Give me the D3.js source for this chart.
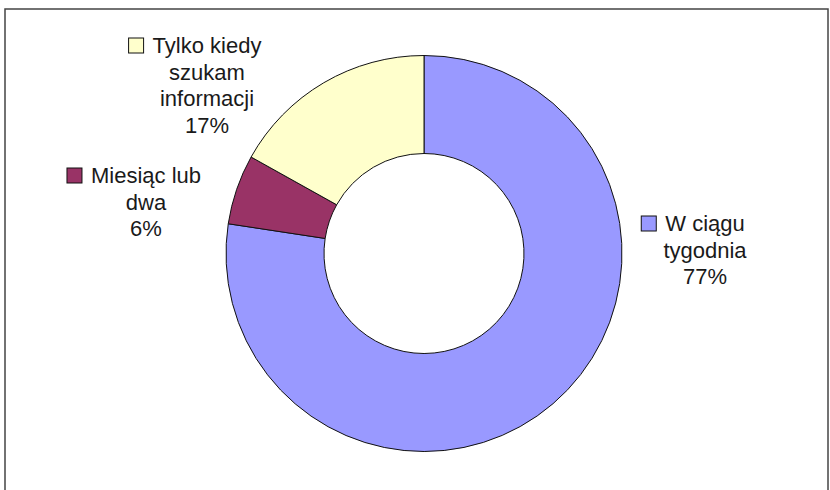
<!DOCTYPE html>
<html><head><meta charset="utf-8">
<script src="https://cdn.jsdelivr.net/npm/d3@7"></script>
<style>html,body{margin:0;padding:0;background:#fff;}svg{display:block;}</style>
</head><body>
<svg id="c" width="830" height="490"></svg>
<script>
const categories = ["W ciągu tygodnia", "Miesiąc lub dwa", "Tylko kiedy szukam informacji"];
const values = [77.4, 5.7, 16.9];
const colors = ["#9999FF", "#993366", "#FFFFCC"];
const labelLines = [["W ciągu", "tygodnia"], ["Miesiąc lub", "dwa"], ["Tylko kiedy", "szukam", "informacji"]];

const svg = d3.select("#c");
svg.append("rect").attr("x", 5).attr("y", 9).attr("width", 823).attr("height", 490)
  .attr("fill", "#fff").attr("stroke", "#444").attr("stroke-width", 1.5);

const cx = 424, cy = 253.5, R = 198, r = 100;
const pie = d3.pie().sort(null).value(d => d)(values);
const arc = d3.arc().innerRadius(r).outerRadius(R);
const total = d3.sum(values);
const g = svg.append("g").attr("transform", `translate(${cx},${cy})`);
g.selectAll("path").data(pie).join("path")
  .attr("d", arc).attr("fill", (d, i) => colors[i])
  .attr("stroke", "#111").attr("stroke-width", 1);

// label anchor positions (center x, first baseline)
const labelPos = [[705, 231], [146, 183], [207, 53]];
const lh = 26.5;
const fontSize = 22;
labelLines.forEach((lines, i) => {
  const all = lines.concat([Math.round(values[i] / total * 100) + "%"]);
  const lg = svg.append("g");
  const [x0, y0] = labelPos[i];
  let firstW = 0;
  all.forEach((t, k) => {
    const tx = lg.append("text").attr("x", x0).attr("y", y0 + k * lh)
      .attr("text-anchor", "middle")
      .attr("font-family", "'Liberation Sans', Arial, sans-serif")
      .attr("font-size", fontSize).attr("fill", "#1a1a1a").text(t);
    if (k === 0) firstW = tx.node().getComputedTextLength();
  });
  lg.append("rect").attr("x", x0 - firstW / 2 - 24).attr("y", y0 - 15)
    .attr("width", 15).attr("height", 15)
    .attr("fill", colors[i]).attr("stroke", "#111").attr("stroke-width", 1);
});
</script>
</body></html>
